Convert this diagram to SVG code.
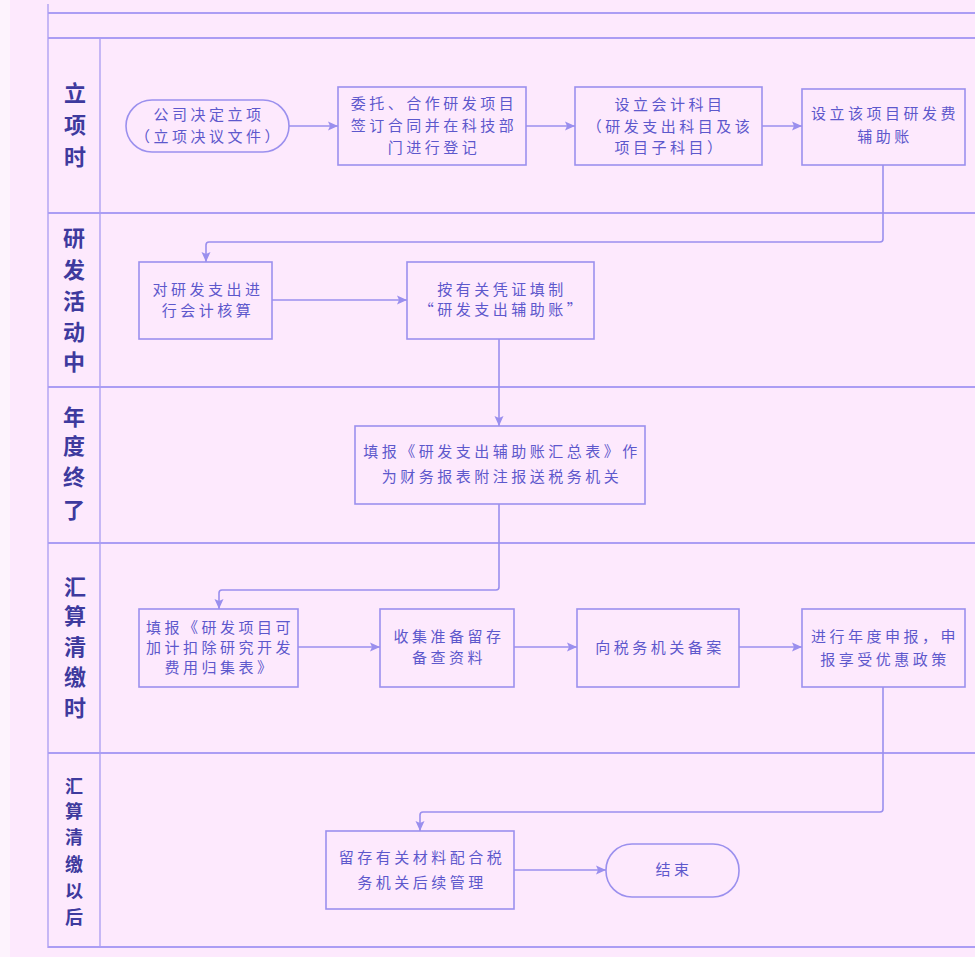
<svg xmlns="http://www.w3.org/2000/svg" width="975" height="957" viewBox="0 0 975 957">
<style>
.lane{stroke:#ab9df4;stroke-width:2;fill:none}
.div{stroke:#a99cf2;stroke-width:1.3;fill:none}
.box{fill:#fde9fd;stroke:#9b90ee;stroke-width:1.6}
.t{font-family:"Noto Sans CJK SC","Noto Sans",sans-serif;font-size:15px;fill:#5d58cc;letter-spacing:3.5px;text-anchor:middle}
.lbl{font-family:"Noto Sans CJK SC","Noto Sans",sans-serif;font-size:22px;font-weight:bold;fill:#3e3a9e;text-anchor:middle}
.lbl2{font-family:"Noto Sans CJK SC","Noto Sans",sans-serif;font-size:18px;font-weight:bold;fill:#3e3a9e;text-anchor:middle}
.c{stroke:#9a8fee;stroke-width:1.6;fill:none;marker-end:url(#ah)}
</style>
<defs>
<marker id="ah" markerUnits="userSpaceOnUse" markerWidth="11" markerHeight="10" refX="10" refY="5" orient="auto">
<path d="M0,0.5 L10,5 L0,9.5 L2,5 z" fill="#9a8fee"/>
</marker>
</defs>
<rect x="0" y="0" width="975" height="957" fill="#fde9fd"/>
<rect x="0" y="0" width="10" height="957" fill="#fdf3fd"/>
<g id="lanes">
<line class="div" x1="48" y1="4" x2="48" y2="948"/>
<line class="div" x1="100" y1="38" x2="100" y2="948"/>
<line class="lane" x1="48" y1="13" x2="975" y2="13"/>
<line class="lane" x1="48" y1="38" x2="975" y2="38"/>
<line class="lane" x1="48" y1="213" x2="975" y2="213"/>
<line class="lane" x1="48" y1="387" x2="975" y2="387"/>
<line class="lane" x1="48" y1="543" x2="975" y2="543"/>
<line class="lane" x1="48" y1="753" x2="975" y2="753"/>
<line class="lane" x1="48" y1="947" x2="975" y2="947"/>
</g>
<g id="lane-labels">
<text class="lbl" x="75" y="101">立</text>
<text class="lbl" x="75" y="133">项</text>
<text class="lbl" x="75" y="165">时</text>
<text class="lbl" x="74" y="246">研</text>
<text class="lbl" x="74" y="278">发</text>
<text class="lbl" x="74" y="309">活</text>
<text class="lbl" x="74" y="340">动</text>
<text class="lbl" x="74" y="370">中</text>
<text class="lbl" x="74" y="425">年</text>
<text class="lbl" x="74" y="454">度</text>
<text class="lbl" x="74" y="485">终</text>
<text class="lbl" x="74" y="518">了</text>
<text class="lbl" x="75" y="595">汇</text>
<text class="lbl" x="75" y="624">算</text>
<text class="lbl" x="75" y="655">清</text>
<text class="lbl" x="75" y="685">缴</text>
<text class="lbl" x="75" y="716">时</text>
<text class="lbl2" x="74" y="793">汇</text>
<text class="lbl2" x="74" y="818">算</text>
<text class="lbl2" x="74" y="844">清</text>
<text class="lbl2" x="74" y="871">缴</text>
<text class="lbl2" x="74" y="898">以</text>
<text class="lbl2" x="74" y="924">后</text>
</g>
<g id="connectors">
<path class="c" d="M289,126 H338"/>
<path class="c" d="M526,126 H575"/>
<path class="c" d="M762,126 H802"/>
<path class="c" d="M883,165 V239 Q883,242 880,242 H209 Q206,242 206,245 V262"/>
<path class="c" d="M272,300 H407"/>
<path class="c" d="M499,339 V426"/>
<path class="c" d="M499,504 V587 Q499,590 496,590 H222 Q219,590 219,593 V609"/>
<path class="c" d="M298,647 H380"/>
<path class="c" d="M514,647 H577"/>
<path class="c" d="M739,647 H802"/>
<path class="c" d="M883,687 V809 Q883,812 880,812 H423 Q420,812 420,815 V831"/>
<path class="c" d="M514,870 H606"/>
</g>
<g id="n1">
<rect class="box" x="126" y="100" width="163" height="52" rx="26"/>
<text class="t" x="209" y="120">公司决定立项</text>
<text class="t" x="209" y="142">（立项决议文件）</text>
</g>
<g id="n2">
<rect class="box" x="338" y="87" width="188" height="78"/>
<text class="t" x="434" y="109">委托、合作研发项目</text>
<text class="t" x="434" y="131">签订合同并在科技部</text>
<text class="t" x="434" y="153">门进行登记</text>
</g>
<g id="n3">
<rect class="box" x="575" y="87" width="187" height="78"/>
<text class="t" x="670" y="110">设立会计科目</text>
<text class="t" x="670" y="132">（研发支出科目及该</text>
<text class="t" x="670" y="153">项目子科目）</text>
</g>
<g id="n4">
<rect class="box" x="802" y="89" width="163" height="76"/>
<text class="t" x="885" y="119">设立该项目研发费</text>
<text class="t" x="885" y="142">辅助账</text>
</g>
<g id="n5">
<rect class="box" x="139" y="262" width="133" height="77"/>
<text class="t" x="208" y="295">对研发支出进</text>
<text class="t" x="208" y="316">行会计核算</text>
</g>
<g id="n6">
<rect class="box" x="407" y="262" width="187" height="77"/>
<text class="t" x="502" y="295">按有关凭证填制</text>
<text class="t" x="502" y="315">“研发支出辅助账”</text>
</g>
<g id="n7">
<rect class="box" x="355" y="426" width="290" height="78"/>
<text class="t" x="502" y="457">填报《研发支出辅助账汇总表》作</text>
<text class="t" x="502" y="482">为财务报表附注报送税务机关</text>
</g>
<g id="n8">
<rect class="box" x="139" y="609" width="159" height="78"/>
<text class="t" x="220" y="633">填报《研发项目可</text>
<text class="t" x="220" y="653">加计扣除研究开发</text>
<text class="t" x="220" y="673">费用归集表》</text>
</g>
<g id="n9">
<rect class="box" x="380" y="609" width="134" height="78"/>
<text class="t" x="449" y="642">收集准备留存</text>
<text class="t" x="449" y="663">备查资料</text>
</g>
<g id="n10">
<rect class="box" x="577" y="609" width="162" height="78"/>
<text class="t" x="660" y="653">向税务机关备案</text>
</g>
<g id="n11">
<rect class="box" x="802" y="609" width="163" height="78"/>
<text class="t" x="885" y="642">进行年度申报，申</text>
<text class="t" x="885" y="665">报享受优惠政策</text>
</g>
<g id="n12">
<rect class="box" x="326" y="831" width="188" height="78"/>
<text class="t" x="422" y="863">留存有关材料配合税</text>
<text class="t" x="422" y="888">务机关后续管理</text>
</g>
<g id="n13">
<rect class="box" x="606" y="844" width="133" height="53" rx="26"/>
<text class="t" x="674" y="875">结束</text>
</g>
</svg>
